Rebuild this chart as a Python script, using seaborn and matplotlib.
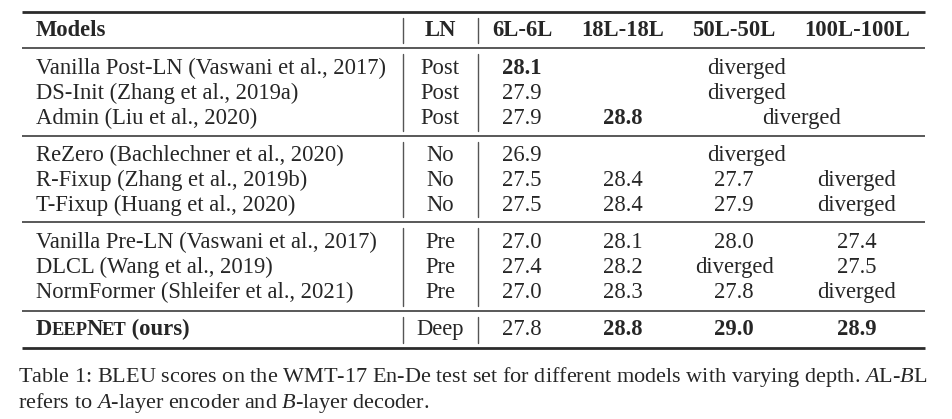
import numpy as np
import pandas as pd
import seaborn as sns
import matplotlib.pyplot as plt

sns.set_theme(style="white")
plt.rcParams['font.family'] = ['Liberation Serif', 'DejaVu Serif']
plt.rcParams['mathtext.fontset'] = 'custom'
plt.rcParams['mathtext.rm'] = 'Liberation Serif'
plt.rcParams['mathtext.it'] = 'Liberation Serif:italic'

#table data
header = ["Models", "LN", "6L-6L", "18L-18L", "50L-50L", "100L-100L"]
models = ["Vanilla Post-LN (Vaswani et al., 2017)", "DS-Init (Zhang et al., 2019a)",
          "Admin (Liu et al., 2020)", "ReZero (Bachlechner et al., 2020)",
          "R-Fixup (Zhang et al., 2019b)", "T-Fixup (Huang et al., 2020)",
          "Vanilla Pre-LN (Vaswani et al., 2017)", "DLCL (Wang et al., 2019)",
          "NormFormer (Shleifer et al., 2021)", "DeepNet (ours)"]
ln = ["Post", "Post", "Post", "No", "No", "No", "Pre", "Pre", "Pre", "Deep"]
# None = cell merged into the one on its left
scores = [["28.1", "diverged", None, None],
          ["27.9", "diverged", None, None],
          ["27.9", "28.8", "diverged", None],
          ["26.9", "diverged", None, None],
          ["27.5", "28.4", "27.7", "diverged"],
          ["27.5", "28.4", "27.9", "diverged"],
          ["27.0", "28.1", "28.0", "27.4"],
          ["27.4", "28.2", "diverged", "27.5"],
          ["27.0", "28.3", "27.8", "diverged"],
          ["27.8", "28.8", "29.0", "28.9"]]
bold = [[1, 0, 0, 0], [0, 0, 0, 0], [0, 1, 0, 0], [0, 0, 0, 0], [0, 0, 0, 0],
        [0, 0, 0, 0], [0, 0, 0, 0], [0, 0, 0, 0], [0, 0, 0, 0], [0, 1, 1, 1]]
caption = ["Table 1: BLEU scores on the WMT-17 En-De test set for different models with varying depth. $A$L-$B$L",
           "refers to $A$-layer encoder and $B$-layer decoder."]

#layout (pixel units)
fs = 16.3
cap_fs = 16
col_x = [522, 623, 734, 857]
ln_x = 440
model_x = 36
head_base = 36
row_base = [74, 99, 124, 161, 186, 211, 248, 273, 298, 335]
rules = [(12, 2.0), (48, 1.1), (136, 1.1), (222, 1.1), (311, 1.1), (348, 2.0)]
vlines = [403, 478]
line_col = "#2b2b2b"

fig = plt.figure(figsize=(9.52, 4.19), dpi=100)
ax = fig.add_axes([0, 0, 1, 1])
ax.set_xlim(0, 952)
ax.set_ylim(419, 0)
ax.axis("off")

for y, lw in rules:
    ax.plot([22, 925], [y, y], color=line_col, lw=lw, solid_capstyle="butt")

# vertical separators with booktabs gaps
for i in range(len(rules) - 1):
    y0, y1 = rules[i][0] + 6, rules[i + 1][0] - 5
    for x in vlines:
        ax.plot([x, x], [y0, y1], color="#555555", lw=1.0)

# header
ax.text(model_x, head_base, header[0], fontsize=fs, fontweight="bold", va="baseline")
ax.text(ln_x, head_base, header[1], fontsize=fs, fontweight="bold", va="baseline", ha="center")
for j, h in enumerate(header[2:]):
    ax.text(col_x[j], head_base, h, fontsize=fs, fontweight="bold", va="baseline", ha="center")

# body
for i in range(len(models)):
    yb = row_base[i]
    if models[i].startswith("DeepNet"):
        # small caps, bold
        fig.canvas.draw()
        r = fig.canvas.get_renderer()
        x = model_x
        pieces = [("D", fs, 0.5), ("EEP", fs * 0.82, 1.5), ("N", fs, 0.5),
                  ("ET", fs * 0.82, 0.5), (" (ours)", fs, 0)]
        for s, size, trim in pieces:
            t = ax.text(x, yb, s, fontsize=size, fontweight="bold", va="baseline")
            bb = t.get_window_extent(renderer=r)
            x = x + bb.width - trim
    else:
        ax.text(model_x, yb, models[i], fontsize=fs, va="baseline")
    ax.text(ln_x, yb, ln[i], fontsize=fs, va="baseline", ha="center")
    row = scores[i]
    for j, v in enumerate(row):
        if v is None:
            continue
        k = j
        while k + 1 < len(row) and row[k + 1] is None:
            k += 1
        xc = (col_x[j] + col_x[k]) / 2 + (6 if k > j else 0)
        ax.text(xc, yb, v, fontsize=fs, va="baseline", ha="center",
                fontweight="bold" if bold[i][j] else "normal")

# caption
ax.text(18, 382, caption[0], fontsize=cap_fs, va="baseline")
ax.text(18, 408, caption[1], fontsize=cap_fs, va="baseline")

fig.savefig("out.png", dpi=100)
